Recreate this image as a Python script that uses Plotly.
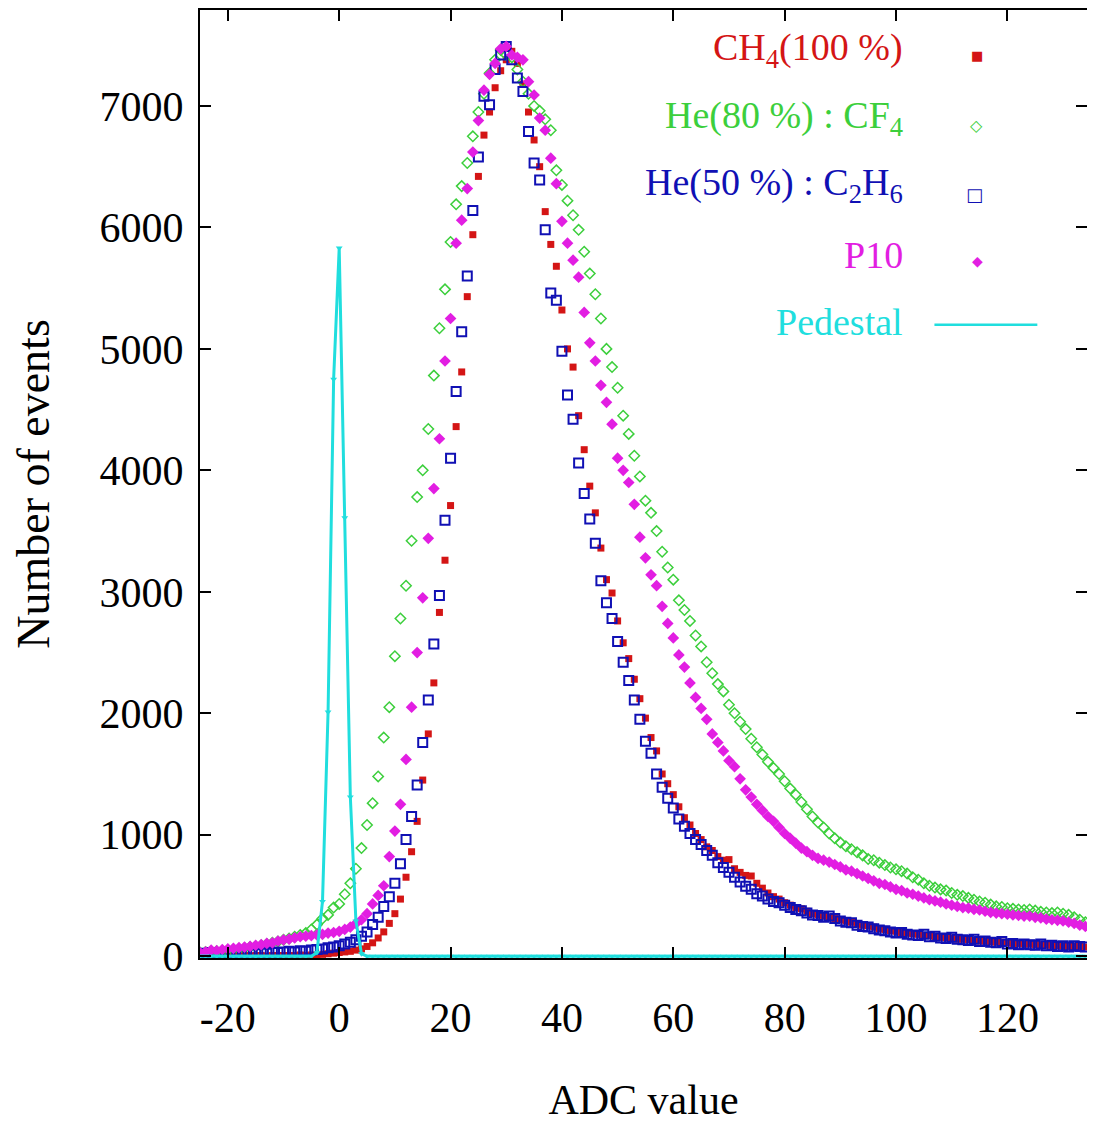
"""ADC spectra of several gas mixtures with the pedestal, redrawn in Plotly."""

import plotly.graph_objects as go

# ADC bins, one per channel from -25 to 134
ADC = list(range(-25, 135))

# counts per bin, rows of ten bins: -25, -15, -5, 5, 15, ... 125
CH4 = [
    5, 0, 5, 0, 5, 5, 0, 5, 5, 0,
    5, 5, 0, 5, 5, 5, 5, 5, 10, 5,
    10, 10, 15, 20, 25, 30, 35, 40, 50, 60,
    80, 110, 150, 200, 270, 350, 470, 650, 860, 1110,
    1450, 1830, 2250, 2830, 3260, 3710, 4360, 4810, 5430, 5940,
    6420, 6760, 6950, 7150, 7290, 7380, 7450, 7350, 7180, 6950,
    6720, 6500, 6130, 5860, 5680, 5320, 5000, 4850, 4450, 4170,
    3870, 3650, 3360, 3100, 2990, 2760, 2580, 2450, 2280, 2120,
    1960, 1800, 1690, 1500, 1420, 1330, 1230, 1140, 1080, 1010,
    960, 900, 870, 820, 790, 795, 720, 690, 665, 660,
    600, 560, 520, 490, 470, 440, 420, 400, 390, 370,
    350, 340, 330, 320, 310, 300, 290, 280, 265, 255,
    250, 240, 225, 220, 210, 205, 195, 190, 185, 180,
    170, 170, 160, 155, 150, 150, 140, 140, 135, 130,
    125, 125, 120, 115, 115, 110, 105, 105, 100, 100,
    95, 95, 90, 90, 85, 85, 80, 80, 80, 75,
]

HE_CF4 = [
    30, 35, 35, 40, 45, 50, 55, 60, 65, 75,
    80, 90, 100, 110, 120, 135, 145, 160, 175, 190,
    220, 260, 310, 340, 400, 430, 510, 600, 720, 890,
    1080, 1260, 1480, 1800, 2050, 2470, 2780, 3050, 3420, 3780,
    4000, 4340, 4780, 5170, 5490, 5880, 6190, 6340, 6530, 6750,
    6950, 7100, 7270, 7380, 7460, 7420, 7400, 7300, 7200, 7100,
    7000, 6960, 6890, 6800, 6470, 6350, 6220, 6100, 5980, 5800,
    5620, 5450, 5250, 5000, 4850, 4680, 4450, 4300, 4120, 3950,
    3750, 3650, 3500, 3330, 3200, 3100, 2930, 2850, 2760, 2640,
    2550, 2420, 2330, 2240, 2180, 2070, 2000, 1930, 1870, 1790,
    1720, 1660, 1600, 1550, 1500, 1440, 1380, 1330, 1270, 1210,
    1150, 1100, 1060, 1010, 970, 935, 905, 880, 855, 830,
    800, 790, 770, 750, 730, 715, 700, 680, 650, 630,
    600, 580, 565, 550, 540, 520, 505, 495, 480, 465,
    450, 440, 425, 410, 405, 395, 390, 385, 380, 385,
    375, 365, 360, 355, 360, 350, 340, 320, 300, 280,
]

HE_C2H6 = [
    25, 20, 30, 15, 25, 20, 30, 20, 25, 30,
    20, 30, 25, 35, 30, 35, 40, 35, 45, 40,
    50, 55, 60, 70, 75, 85, 100, 115, 135, 165,
    200, 260, 320, 410, 490, 600, 760, 960, 1150, 1410,
    1760, 2110, 2570, 2970, 3590, 4100, 4650, 5140, 5600, 6140,
    6580, 7080, 7010, 7300, 7420, 7490, 7380, 7230, 7120, 6790,
    6530, 6390, 5980, 5460, 5400, 4980, 4620, 4420, 4060, 3810,
    3600, 3400, 3090, 2910, 2780, 2590, 2420, 2270, 2110, 1950,
    1770, 1670, 1500, 1390, 1300, 1220, 1130, 1070, 1010, 960,
    920, 870, 830, 770, 730, 690, 650, 610, 575, 550,
    515, 495, 470, 450, 440, 420, 400, 385, 375, 355,
    340, 335, 320, 330, 310, 290, 280, 275, 255, 245,
    240, 225, 215, 210, 200, 190, 195, 180, 175, 170,
    180, 160, 165, 150, 145, 155, 140, 135, 130, 140,
    120, 125, 115, 110, 120, 100, 105, 95, 100, 95,
    90, 100, 85, 90, 80, 85, 75, 85, 80, 75,
]

P10 = [
    30, 35, 50, 45, 55, 60, 65, 70, 75, 80,
    90, 95, 105, 110, 125, 135, 140, 150, 160, 165,
    170, 175, 180, 190, 195, 205, 220, 240, 270, 300,
    350, 430, 500, 580, 820, 1030, 1250, 1620, 2050, 2500,
    2950, 3440, 3850, 4260, 4900, 5250, 5870, 6060, 6320, 6620,
    6880, 7130, 7260, 7350, 7470, 7490, 7420, 7400, 7380, 7200,
    7090, 6900, 6800, 6570, 6360, 6050, 5870, 5730, 5590, 5300,
    5050, 4900, 4700, 4560, 4380, 4100, 4000, 3900, 3720, 3450,
    3280, 3140, 3050, 2880, 2740, 2620, 2480, 2380, 2250, 2130,
    2040, 1950, 1830, 1760, 1690, 1610, 1560, 1460, 1370, 1310,
    1250, 1200, 1150, 1110, 1060, 1010, 970, 930, 890, 860,
    830, 805, 790, 775, 755, 735, 710, 700, 680, 660,
    640, 620, 600, 590, 570, 550, 540, 520, 510, 495,
    480, 465, 455, 445, 430, 420, 410, 400, 395, 385,
    380, 370, 360, 355, 350, 345, 340, 335, 330, 330,
    320, 315, 305, 300, 295, 290, 280, 270, 255, 245,
]

PEDESTAL = [
    0, 0, 0, 0, 0, 0, 0, 0, 0, 0,
    0, 0, 0, 0, 0, 0, 0, 0, 0, 0,
    0, 30, 450, 2010, 4750, 5830, 3610, 1310, 290, 20,
    0, 0, 0, 0, 0, 0, 0, 0, 0, 0,
    0, 0, 0, 0, 0, 0, 0, 0, 0, 0,
    0, 0, 0, 0, 0, 0, 0, 0, 0, 0,
    0, 0, 0, 0, 0, 0, 0, 0, 0, 0,
    0, 0, 0, 0, 0, 0, 0, 0, 0, 0,
    0, 0, 0, 0, 0, 0, 0, 0, 0, 0,
    0, 0, 0, 0, 0, 0, 0, 0, 0, 0,
    0, 0, 0, 0, 0, 0, 0, 0, 0, 0,
    0, 0, 0, 0, 0, 0, 0, 0, 0, 0,
    0, 0, 0, 0, 0, 0, 0, 0, 0, 0,
    0, 0, 0, 0, 0, 0, 0, 0, 0, 0,
    0, 0, 0, 0, 0, 0, 0, 0, 0, 0,
    0, 0, 0, 0, 0, 0, 0, 0, 0, 0,
]

X_TICKS = [-20, 0, 20, 40, 60, 80, 100, 120]
Y_TICKS = [0, 1000, 2000, 3000, 4000, 5000, 6000, 7000]

FONT = "Liberation Serif, Times New Roman, serif"

RED = "#d41515"
GREEN = "#3ccf3c"
BLUE = "#1010b4"
MAGENTA = "#e21ee2"
CYAN = "#20dede"

fig = go.Figure()

fig.add_trace(go.Scatter(
    x=ADC, y=CH4, mode="markers",
    marker=dict(symbol="square", size=7, color=RED),
))
fig.add_trace(go.Scatter(
    x=ADC, y=HE_CF4, mode="markers",
    marker=dict(symbol="diamond-open", size=8, color=GREEN, line=dict(width=1.5)),
))
fig.add_trace(go.Scatter(
    x=ADC, y=HE_C2H6, mode="markers",
    marker=dict(symbol="square-open", size=9, color=BLUE, line=dict(width=2)),
))
fig.add_trace(go.Scatter(
    x=ADC, y=P10, mode="markers",
    marker=dict(symbol="diamond", size=9, color=MAGENTA),
))
fig.add_trace(go.Scatter(
    x=ADC, y=PEDESTAL, mode="lines+markers",
    line=dict(color=CYAN, width=3),
    marker=dict(symbol="triangle-down", size=6, color=CYAN),
))

# gnuplot-style key: text right-aligned, sample to its right
key = [
    ("CH<sub>4</sub>(100 %)", RED, "■", 13, 0.958),
    ("He(80 %) : CF<sub>4</sub>", GREEN, "◇", 16, 0.886),
    ("He(50 %) : C<sub>2</sub>H<sub>6</sub>", BLUE, "□", 18, 0.815),
    ("P10", MAGENTA, "◆", 14, 0.742),
    ("Pedestal", CYAN, None, 0, 0.671),
]
for text, color, glyph, size, ypos in key:
    fig.add_annotation(
        x=0.795, y=ypos, xref="paper", yref="paper", xanchor="right",
        yanchor="middle", text=text, showarrow=False,
        font=dict(family=FONT, size=38, color=color),
    )
    if glyph:
        fig.add_annotation(
            x=0.885, y=ypos + 0.004, xref="paper", yref="paper",
            text=glyph, showarrow=False,
            font=dict(family="DejaVu Sans", size=size, color=color),
        )
fig.add_shape(
    type="line", xref="paper", yref="paper",
    x0=0.828, x1=0.944, y0=0.671 - 0.003, y1=0.671 - 0.003,
    line=dict(color=CYAN, width=2.5),
)

axis_style = dict(
    showline=True, linecolor="black", linewidth=2, mirror="ticks",
    ticks="inside", ticklen=11, tickwidth=2, tickcolor="black",
    showgrid=False, zeroline=False, automargin=False,
    tickfont=dict(family=FONT, size=42, color="black"),
)

fig.update_xaxes(
    range=[-25, 134.3], tickvals=X_TICKS,
    ticktext=[str(v) for v in X_TICKS], ticklabelstandoff=22,
    title=dict(text="ADC value", font=dict(family=FONT, size=42, color="black"),
               standoff=44),
    **axis_style,
)
fig.update_yaxes(
    range=[-15, 7790], tickvals=Y_TICKS, ticklabelstandoff=6,
    title=dict(text="Number of events", font=dict(family=FONT, size=46, color="black"),
               standoff=36),
    **axis_style,
)

# the page body adds an 8 px offset, so the figure is 8 px smaller than the window
fig.update_layout(
    width=1087, height=1115, autosize=False,
    margin=dict(l=192, r=8, t=2, b=165),
    paper_bgcolor="white", plot_bgcolor="white",
    showlegend=False,
)

fig.write_html("out.html")
